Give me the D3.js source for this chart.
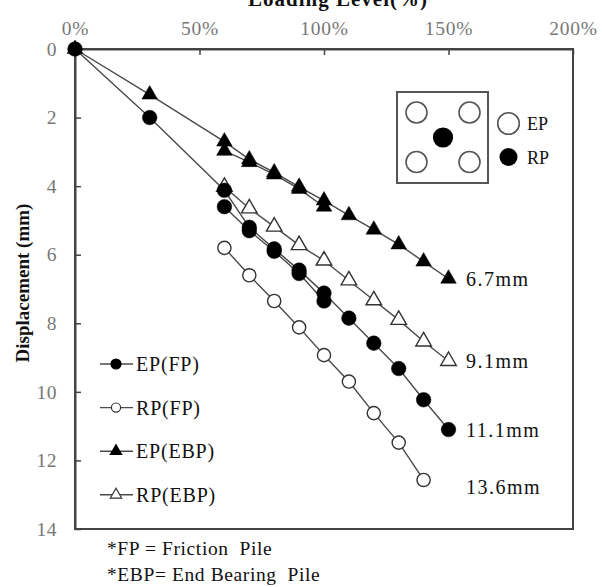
<!DOCTYPE html>
<html>
<head>
<meta charset="utf-8">
<script src="https://cdn.jsdelivr.net/npm/d3@7"></script>
<style>
  html, body { margin: 0; padding: 0; background: #fff; }
  svg { display: block; font-family: "Liberation Serif", "Times New Roman", serif; }
  svg text { font-family: "Liberation Serif", "Times New Roman", serif; white-space: pre; }
</style>
</head>
<body>
<svg id="chart" width="602" height="587"></svg>
<script>
// Load-displacement results (loading level in %, displacement in mm)
const xTicks = [0, 50, 100, 150, 200];
const yTicks = [0, 2, 4, 6, 8, 10, 12, 14];

const epFpLoad = [0, 30, 60, 70, 80, 90, 100, 110, 120, 130, 140, 150];
const epFpDisp = [0, 2.0, 4.12, 5.2, 5.83, 6.45, 7.12, 7.85, 8.58, 9.32, 10.23, 11.1];
const epFpReloadLoad = [60, 70, 80, 90, 100];
const epFpReloadDisp = [4.6, 5.3, 5.9, 6.55, 7.35];

const rpFpLoad = [60, 70, 80, 90, 100, 110, 120, 130, 140];
const rpFpDisp = [5.8, 6.6, 7.35, 8.12, 8.93, 9.7, 10.62, 11.48, 12.57];

const epEbpLoad = [0, 30, 60, 70, 80, 90, 100, 110, 120, 130, 140, 150];
const epEbpDisp = [0, 1.33, 2.7, 3.22, 3.6, 4.02, 4.42, 4.85, 5.27, 5.7, 6.2, 6.7];
const epEbpReloadLoad = [60, 70, 80, 90, 100];
const epEbpReloadDisp = [2.97, 3.3, 3.66, 4.08, 4.6];

const rpEbpLoad = [60, 70, 80, 90, 100, 110, 120, 130, 140, 150];
const rpEbpDisp = [4.02, 4.65, 5.18, 5.72, 6.17, 6.75, 7.33, 7.9, 8.53, 9.1];

const endLabels = ["6.7mm", "9.1mm", "11.1mm", "13.6mm"];
const legendNames = ["EP(FP)", "RP(FP)", "EP(EBP)", "RP(EBP)"];
const notes = ["*FP = Friction  Pile", "*EBP= End Bearing  Pile"];

const zip = (xs, ys) => xs.map((x, i) => [x, ys[i]]);

const svg = d3.select("#chart");
const margin = { left: 75, right: 29, top: 49, bottom: 58 };
const W = 602, H = 587;

const x = d3.scaleLinear().domain([0, 200]).range([margin.left, W - margin.right]);
const y = d3.scaleLinear().domain([0, 14]).range([margin.top, H - margin.bottom]);

const axisColor = "#444";
const lineColor = "#4a4a4a";
const serif = "Liberation Serif, Times New Roman, serif";

// Frame
svg.append("rect")
  .attr("x", x(0)).attr("y", y(0))
  .attr("width", x(200) - x(0)).attr("height", y(14) - y(0))
  .attr("fill", "none").attr("stroke", axisColor).attr("stroke-width", 2);

// Top x axis
const xAxis = d3.axisTop(x).tickValues(xTicks).tickFormat(d => d + "%").tickSizeInner(-6).tickSizeOuter(0).tickPadding(14);
const gx = svg.append("g").attr("transform", `translate(0,${y(0)})`).call(xAxis)
  .attr("font-family", serif);
gx.select(".domain").attr("stroke", axisColor).attr("stroke-width", 2);
gx.selectAll(".tick line").attr("stroke", axisColor).attr("stroke-width", 1.5);
gx.selectAll(".tick text")
  .attr("fill", "#777").attr("font-size", 19.5).attr("letter-spacing", 0.8)
  .style("font-family", serif);

// Left y axis
const yAxis = d3.axisLeft(y).tickValues(yTicks).tickSizeInner(-6).tickSizeOuter(0).tickPadding(18);
const gy = svg.append("g").attr("transform", `translate(${x(0)},0)`).call(yAxis)
  .attr("font-family", serif);
gy.select(".domain").attr("stroke", axisColor).attr("stroke-width", 2);
gy.selectAll(".tick line").attr("stroke", axisColor).attr("stroke-width", 1.5);
gy.selectAll(".tick text")
  .attr("fill", "#777").attr("font-size", 19.5).attr("letter-spacing", 0.5)
  .style("font-family", serif);

// Axis titles
svg.append("text")
  .attr("x", 338).attr("y", 6)
  .attr("text-anchor", "middle").attr("font-weight", "bold")
  .attr("font-size", 21).attr("letter-spacing", 1).attr("fill", "#111")
  .text("Loading Level(%)");

svg.append("text")
  .attr("transform", `translate(29,${(y(0) + y(14)) / 2 - 6}) rotate(-90)`)
  .attr("text-anchor", "middle").attr("font-weight", "bold")
  .attr("font-size", 19).attr("fill", "#111")
  .text("Displacement (mm)");

// Lines
const line = d3.line().x(d => x(d[0])).y(d => y(d[1]));
const paths = [
  zip(rpEbpLoad, rpEbpDisp),
  zip(rpFpLoad, rpFpDisp),
  zip(epEbpLoad, epEbpDisp),
  zip(epEbpReloadLoad, epEbpReloadDisp),
  zip(epFpLoad, epFpDisp),
  zip(epFpReloadLoad, epFpReloadDisp)
];
svg.append("g").selectAll("path").data(paths).join("path")
  .attr("d", line).attr("fill", "none")
  .attr("stroke", lineColor).attr("stroke-width", 1.4);

// Markers
const tri = d3.symbol(d3.symbolTriangle, 105)();
const triSmall = d3.symbol(d3.symbolTriangle, 55)();

function drawMarkers(pts, kind) {
  const g = svg.append("g");
  if (kind === "circleFilled" || kind === "circleOpen") {
    g.selectAll("circle").data(pts).join("circle")
      .attr("cx", d => x(d[0])).attr("cy", d => y(d[1]))
      .attr("r", kind === "circleFilled" ? 7.3 : 6.6)
      .attr("fill", kind === "circleFilled" ? "#000" : "#fff")
      .attr("stroke", kind === "circleFilled" ? "#000" : "#333")
      .attr("stroke-width", kind === "circleFilled" ? 0.5 : 1.4);
  } else {
    g.selectAll("path").data(pts).join("path")
      .attr("d", tri)
      .attr("transform", d => `translate(${x(d[0])},${y(d[1])})`)
      .attr("fill", kind === "triFilled" ? "#000" : "#fff")
      .attr("stroke", kind === "triFilled" ? "#000" : "#333")
      .attr("stroke-width", kind === "triFilled" ? 0.5 : 1.4);
  }
}
drawMarkers(zip(rpFpLoad, rpFpDisp), "circleOpen");
drawMarkers(zip(rpEbpLoad, rpEbpDisp), "triOpen");
drawMarkers(zip(epEbpReloadLoad, epEbpReloadDisp), "triFilled");
drawMarkers(zip(epEbpLoad, epEbpDisp), "triFilled");
drawMarkers(zip(epFpReloadLoad, epFpReloadDisp), "circleFilled");
drawMarkers(zip(epFpLoad, epFpDisp), "circleFilled");

// End-of-test labels
const lastPts = [
  [epEbpLoad.at(-1), epEbpDisp.at(-1)],
  [rpEbpLoad.at(-1), rpEbpDisp.at(-1)],
  [epFpLoad.at(-1), epFpDisp.at(-1)],
  [rpFpLoad.at(-1), rpFpDisp.at(-1)]
];
svg.append("g").selectAll("text").data(endLabels).join("text")
  .attr("x", x(157))
  .attr("y", (d, i) => y(lastPts[i][1]) + (i === 3 ? 14 : 7))
  .attr("font-size", 20).attr("letter-spacing", 1.5).attr("fill", "#111")
  .text(d => d);

// Pile layout inset
const inset = svg.append("g");
inset.append("rect").attr("x", 397).attr("y", 92).attr("width", 91).attr("height", 91)
  .attr("fill", "#fff").attr("stroke", "#555").attr("stroke-width", 2);
const piles = [[416.5, 112.5, 0], [469.5, 112.5, 0], [416.5, 162, 0], [469.5, 162, 0], [443, 137.5, 1]];
inset.selectAll("circle").data(piles).join("circle")
  .attr("cx", d => d[0]).attr("cy", d => d[1])
  .attr("r", d => d[2] ? 9.3 : 10.5)
  .attr("fill", d => d[2] ? "#000" : "#fff")
  .attr("stroke", d => d[2] ? "#000" : "#555").attr("stroke-width", 1.6);
inset.append("circle").attr("cx", 508.5).attr("cy", 123.5).attr("r", 10.8)
  .attr("fill", "#fff").attr("stroke", "#555").attr("stroke-width", 1.6);
inset.append("circle").attr("cx", 508.5).attr("cy", 157).attr("r", 9)
  .attr("fill", "#000");
inset.append("text").attr("x", 527).attr("y", 130).attr("font-size", 18).attr("fill", "#111").text("EP");
inset.append("text").attr("x", 527).attr("y", 164).attr("font-size", 18).attr("fill", "#111").text("RP");

// Series legend
const legendKinds = ["circleFilled", "circleOpen", "triFilled", "triOpen"];
const lg = svg.append("g").attr("transform", "translate(100,364)");
legendNames.forEach((name, i) => {
  const g = lg.append("g").attr("transform", `translate(0,${i * 43.6})`);
  g.append("line").attr("x1", 0).attr("x2", 33).attr("y1", 0).attr("y2", 0)
    .attr("stroke", lineColor).attr("stroke-width", 1.4);
  const k = legendKinds[i];
  if (k.startsWith("circle")) {
    g.append("circle").attr("cx", 16).attr("cy", 0).attr("r", k === "circleFilled" ? 5 : 4.6)
      .attr("fill", k === "circleFilled" ? "#000" : "#fff")
      .attr("stroke", k === "circleFilled" ? "#000" : "#333").attr("stroke-width", 1.2);
  } else {
    g.append("path").attr("d", triSmall).attr("transform", "translate(16,0)")
      .attr("fill", k === "triFilled" ? "#000" : "#fff")
      .attr("stroke", k === "triFilled" ? "#000" : "#333").attr("stroke-width", 1.2);
  }
  g.append("text").attr("x", 36).attr("y", 7).attr("font-size", 20)
    .attr("letter-spacing", 0.8).attr("fill", "#111").text(name);
});

// Footnotes
svg.append("g").selectAll("text").data(notes).join("text")
  .attr("x", 107).attr("y", (d, i) => 555 + i * 26)
  .attr("font-size", 19.5).attr("letter-spacing", 0.6).attr("fill", "#111")
  .text(d => d);
</script>
</body>
</html>
